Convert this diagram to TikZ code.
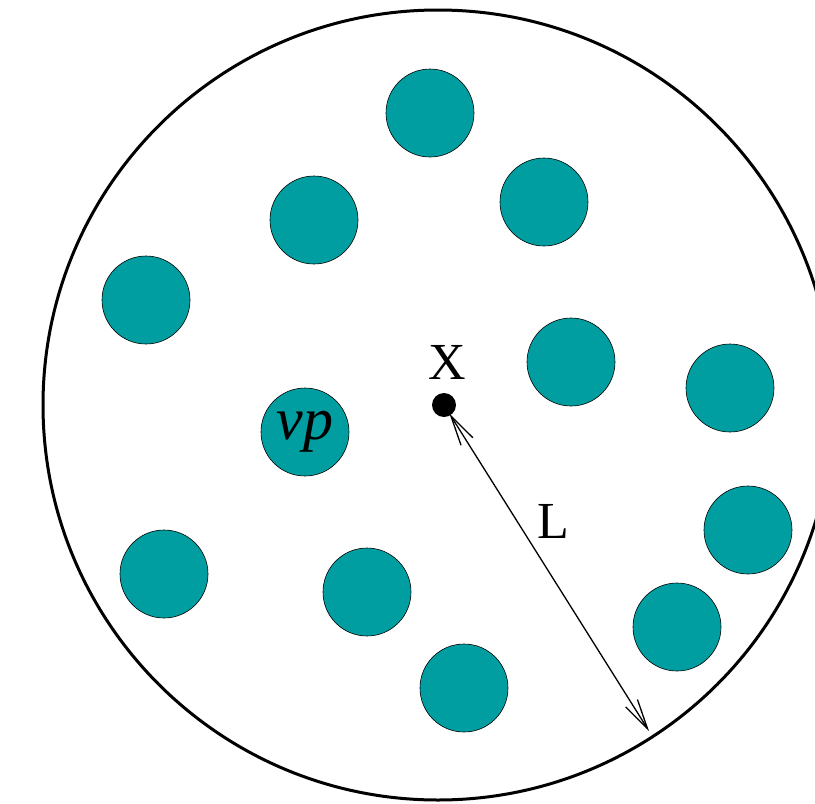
\documentclass[tikz,border=0pt]{standalone}
\usepackage{fontspec}
\setmainfont{Liberation Serif}
\usetikzlibrary{arrows.meta}
\definecolor{teal1}{RGB}{0,158,160}
\tikzset{
  ball/.style={circle, draw=black, line width=0.6pt, fill=teal1, minimum size=88pt, inner sep=0pt},
  lbl/.style={font=\fontsize{52}{52}\selectfont, inner sep=0pt}
}
\begin{document}
\begin{tikzpicture}[x=1pt,y=-1pt]
\useasboundingbox (0,0) rectangle (815,804);
\draw[line width=3pt] (438,405) circle (395);
\node[ball] (b1) at (430,113) {};
\node[ball] (b2) at (544,202) {};
\node[ball] (b3) at (314,220) {};
\node[ball] (b4) at (146,300) {};
\node[ball] (b5) at (571,362) {};
\node[ball] (b6) at (730,388) {};
\node[ball, font=\itshape\fontsize{60}{60}\selectfont] (vp) at (305,432) {vp};
\node[ball] (b8) at (748,530) {};
\node[ball] (b9) at (164,574) {};
\node[ball] (b10) at (367,592) {};
\node[ball] (b11) at (677,627) {};
\node[ball] (b12) at (464,688) {};
\node[circle, fill=black, minimum size=24pt, inner sep=0pt] (x) at (444,405) {};
\node[lbl] (xl) at (447,362) {X};
\coordinate (e) at (649,731);
\draw[line width=1.3pt, {Straight Barb[length=30pt,width=14pt]}-{Straight Barb[length=30pt,width=14pt]}, shorten <=-2pt] (x) -- (e);
\node[lbl] (ll) at (553,521) {L};
\end{tikzpicture}
\end{document}
